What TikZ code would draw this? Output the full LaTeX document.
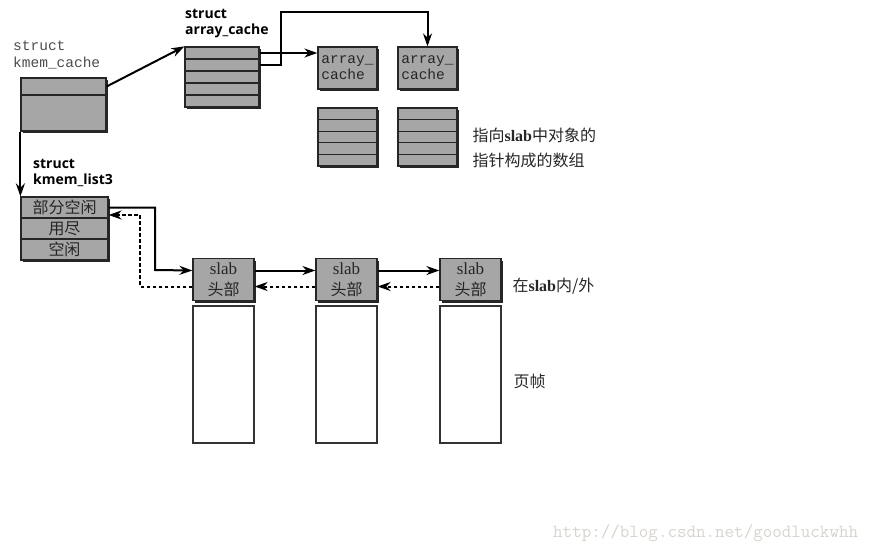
\documentclass[tikz,border=0pt]{standalone}
\usepackage{fontspec}
\setmainfont{Liberation Serif}
\setsansfont{Open Sans}
\newfontfamily\cjk{Noto Sans CJK SC}
\newfontfamily\couriermono{Liberation Mono}
\usetikzlibrary{arrows.meta}
\definecolor{wmgray}{RGB}{214,212,204}

\begin{document}
\begin{tikzpicture}[x=1pt, y=-1pt,
        cell/.style={draw=black!85, line width=1.2pt, fill=gray!70, inner sep=0pt,
            preaction={fill=black!85, transform canvas={xshift=2.4pt, yshift=-2.4pt}}},
        pageframe/.style={draw=black!80, line width=1.2pt, fill=white, minimum width=61pt, minimum height=137pt},
        arrow/.style={-{Stealth[length=13pt, width=9pt]}, line width=2pt},
        back/.style={arrow, dash pattern=on 3.5pt off 2.5pt},
        cn/.style={font=\cjk\fontsize{16}{25}\selectfont, text=black!85},
        structlabel/.style={font=\sffamily\bfseries\fontsize{14}{16.5}\selectfont, anchor=north west, align=left, inner sep=0pt}
    ]
    \useasboundingbox (0,0) rectangle (884,549);

    % kmem_cache
    \node[anchor=north west, align=left, inner sep=0pt, font=\couriermono\fontsize{14.5}{17}\selectfont, text=black!70] (kclabel) at (13,41) {struct\\kmem\_cache};
    \node[cell, minimum width=85pt, minimum height=17pt] (kc0) at (63.5,86.5) {};
    \node[cell, minimum width=85pt, minimum height=36pt] (kc1) at (63.5,113) {};

    % array_cache
    \node[structlabel] (aclabel) at (185,9) {struct\\array\_cache};
    \foreach \i in {0,...,4}
        \node[cell, minimum width=74pt, minimum height=12pt] (ac\i) at (222,53+12*\i) {};

    \node[cell, minimum width=59pt, minimum height=42pt, align=left, text=black!85,
        font=\couriermono\fontsize{14.5}{16}\selectfont] (cpu1) at (347.5,68) {array\_\\cache};
    \node[cell, minimum width=59pt, minimum height=42pt, align=left, text=black!85,
        font=\couriermono\fontsize{14.5}{16}\selectfont] (cpu2) at (427.5,68) {array\_\\cache};

    % pointer arrays
    \foreach \i in {0,...,4} {
        \node[cell, minimum width=59pt, minimum height=11.6pt] (pa\i) at (347.5,113.8+11.6*\i) {};
        \node[cell, minimum width=59pt, minimum height=11.6pt] (pb\i) at (427.5,113.8+11.6*\i) {};
    }
    \node[cn, anchor=west, align=left] (ptrnote) at (469,147.5) {指向{\rmfamily\bfseries slab}中对象的\\指针构成的数组};

    % kmem_list3
    \node[structlabel] (kllabel) at (33,159) {struct\\kmem\_list3};
    \foreach \t [count=\i from 0] in {部分空闲,用尽,空闲}
        \node[cell, cn, minimum width=87pt, minimum height=21pt] (kl\i) at (64.5,207.5+21*\i) {\t};

    % slabs
    \foreach \x [count=\i] in {223.5,346.5,470.5} {
        \node[cell, cn, minimum width=61pt, minimum height=42pt, align=center, font=\cjk\fontsize{16}{21}\selectfont] (sh\i) at (\x,279.5) {{\rmfamily\fontsize{17}{21}\selectfont slab}\\头部};
        \node[pageframe] (pf\i) at (\x,374.5) {};
    }
    \node[cn, anchor=west] (inout) at (509,286) {在{\rmfamily\bfseries slab}内/外};
    \node[cn, anchor=west] (pfnote) at (510,381) {页帧};

    % connectors
    \coordinate (bend) at (281,12);
    \coordinate (j1) at (155,270);
    \coordinate (j2) at (140,215);

    \draw[arrow] (kc0.east) -- (ac0.north west);
    \draw[arrow] (ac0.east) -- (ac0.east -| cpu1.west);
    \draw[arrow] (ac1.east) -| (bend) -| (cpu2.north);
    \draw[arrow] (kc1.south west) -- (kl0.north west);

    \draw[arrow] (kl0.east) -| (j1) -- ([yshift=9pt]sh1.west);
    \draw[back] ([yshift=-7pt]sh1.west) -| (j2) -- ([yshift=-7.5pt]kl0.east);
    \draw[arrow] ([yshift=9pt]sh1.east) -- ([yshift=9pt]sh2.west);
    \draw[arrow] ([yshift=9pt]sh2.east) -- ([yshift=9pt]sh3.west);
    \draw[back] ([yshift=-7pt]sh2.west) -- ([yshift=-7pt]sh1.east);
    \draw[back] ([yshift=-7pt]sh3.west) -- ([yshift=-7pt]sh2.east);

    \node[anchor=base west, inner sep=0pt, font=\ttfamily\fontsize{18.5}{20}\selectfont, text=wmgray] (wm) at (553,537) {http://blog.csdn.net/goodluckwhh};
\end{tikzpicture}
\end{document}
